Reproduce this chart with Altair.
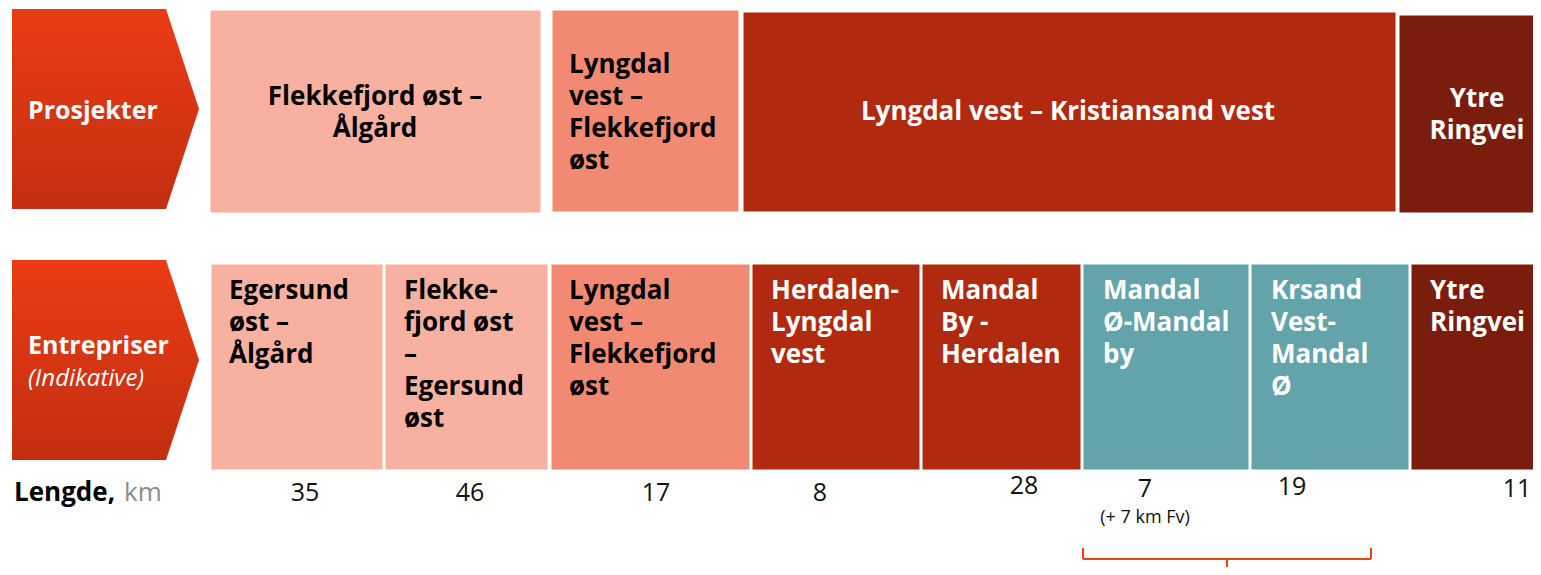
import altair as alt
import pandas as pd

# ---------------- data ----------------
row_labels = ["Prosjekter", "Entrepriser"]
row_sublabels = ["", "(Indikative)"]

project_names = [
    "Flekkefjord øst –\nÅlgård",
    "Lyngdal\nvest –\nFlekkefjord\nøst",
    "Lyngdal vest – Kristiansand vest",
    "Ytre\nRingvei",
]
project_group = ["light", "medium", "red", "dark"]

contract_names = [
    "Egersund\nøst –\nÅlgård",
    "Flekke-\nfjord øst\n–\nEgersund\nøst",
    "Lyngdal\nvest –\nFlekkefjord\nøst",
    "Herdalen-\nLyngdal\nvest",
    "Mandal\nBy -\nHerdalen",
    "Mandal\nØ-Mandal\nby",
    "Krsand\nVest-\nMandal\nØ",
    "Ytre\nRingvei",
]
contract_group = ["light", "light", "medium", "red", "red", "teal", "teal", "dark"]
lengths_km = [35, 46, 17, 8, 28, 7, 19, 11]
length_notes = ["", "", "", "", "", "(+ 7 km Fv)", "", ""]

# ---------------- layout & style ----------------
fill_colors = {"light": "#F8B1A1", "medium": "#F28A73", "red": "#B12A10", "dark": "#7A1D0C", "teal": "#63A4AB"}
text_colors = {"light": "#000000", "medium": "#000000", "red": "#FFFFFF", "dark": "#FFFFFF", "teal": "#FFFFFF"}

LINE_H = 32
proj_x0 = [210, 552, 743, 1399]
proj_x1 = [541, 739, 1396, 1545]
proj_y0 = [10, 10, 12, 15]
proj_y1 = [213, 212, 212, 213]
proj_tx = [375, 569, 1068, 1477]
proj_tcenter = [113, 113, 112, 115]
proj_align = ["center", "left", "center", "center"]

con_x0 = [211, 385, 551, 752, 922, 1083, 1251, 1411]
con_x1 = [383, 548, 750, 920, 1081, 1249, 1409, 1545]
con_tx = [229, 404, 569, 771, 941, 1103, 1271, 1430]
len_x = [305, 470, 656, 820, 1024, 1145, 1292, 1517]
len_y = [493, 493, 493, 493, 486, 489, 487, 489]

FONT = "Open Sans"
xs = alt.Scale(domain=[8, 1533], nice=False, zero=False)
ys = alt.Scale(domain=[8, 567], nice=False, zero=False, reverse=True)

# ---------------- tables ----------------
proj = pd.DataFrame({
    "name": project_names, "group": project_group,
    "x0": proj_x0, "x1": proj_x1, "y0": proj_y0, "y1": proj_y1,
    "tx": proj_tx, "align": proj_align, "tc_y": proj_tcenter,
})
proj["fill"] = proj["group"].map(fill_colors)
proj["tc"] = proj["group"].map(text_colors)
proj["nlines"] = proj["name"].str.count("\n") + 1
proj["ty"] = proj["tc_y"] - (proj["nlines"] - 1) * LINE_H / 2

con = pd.DataFrame({
    "name": contract_names, "group": contract_group,
    "x0": con_x0, "x1": con_x1, "tx": con_tx,
    "len": [str(v) for v in lengths_km], "note": length_notes,
    "lx": len_x, "ly": len_y,
})
con["y0"] = 264
con["y1"] = 470
con["ty"] = 290.5
con["fill"] = con["group"].map(fill_colors)
con["tc"] = con["group"].map(text_colors)

# arrow pentagons (x, top, bottom)
arrows = pd.DataFrame({
    "row": ["a", "a", "a", "b", "b", "b"],
    "x": [12, 166, 199, 12, 166, 199],
    "top": [9, 9, 109, 260, 260, 360],
    "bot": [209, 209, 109, 460, 460, 360],
})

grad = alt.Gradient(
    gradient="linear",
    stops=[alt.GradientStop(color="#EC3B15", offset=0), alt.GradientStop(color="#C22F10", offset=1)],
    x1=0, x2=0, y1=0, y2=1,
)

topstrip = alt.Chart(pd.DataFrame({"a": [0], "b": [1545], "c": [0], "d": [3]})).mark_rect(color="#F7F7F7").encode(
    x=alt.X("a:Q", scale=xs, axis=None), x2="b:Q",
    y=alt.Y("c:Q", scale=ys, axis=None), y2="d:Q",
)

arrow_layer = alt.Chart(arrows).mark_area(color=grad, interpolate="linear").encode(
    x=alt.X("x:Q", scale=xs, axis=None),
    y=alt.Y("top:Q", scale=ys, axis=None),
    y2="bot:Q",
    detail="row:N",
)

row_text = pd.DataFrame({
    "t": row_labels, "s": row_sublabels, "x": [28, 28], "y": [111, 346], "sy": [111, 379],
})
row_label_layer = alt.Chart(row_text).mark_text(
    font=FONT, fontSize=25, fontWeight="bold", color="white", align="left", baseline="middle"
).encode(x=alt.X("x:Q", scale=xs, axis=None), y=alt.Y("y:Q", scale=ys, axis=None), text="t:N")
row_sub_layer = alt.Chart(row_text).mark_text(
    font=FONT, fontSize=24, fontStyle="italic", color="white", align="left", baseline="middle"
).encode(x=alt.X("x:Q", scale=xs, axis=None), y=alt.Y("sy:Q", scale=ys, axis=None), text="s:N")

proj_rects = alt.Chart(proj).mark_rect(stroke="white", strokeWidth=1).encode(
    x=alt.X("x0:Q", scale=xs, axis=None), x2="x1:Q",
    y=alt.Y("y0:Q", scale=ys, axis=None), y2="y1:Q",
    color=alt.Color("fill:N", scale=None),
)

def proj_text(al):
    return alt.Chart(proj).transform_filter(alt.datum.align == al).mark_text(
        font=FONT, fontSize=26, fontWeight="bold", align=al, baseline="middle",
        lineBreak="\n", lineHeight=LINE_H,
    ).encode(
        x=alt.X("tx:Q", scale=xs, axis=None), y=alt.Y("ty:Q", scale=ys, axis=None),
        text="name:N", color=alt.Color("tc:N", scale=None),
    )

con_rects = alt.Chart(con).mark_rect(stroke="white", strokeWidth=1).encode(
    x=alt.X("x0:Q", scale=xs, axis=None), x2="x1:Q",
    y=alt.Y("y0:Q", scale=ys, axis=None), y2="y1:Q",
    color=alt.Color("fill:N", scale=None),
)
con_text = alt.Chart(con).mark_text(
    font=FONT, fontSize=26, fontWeight="bold", align="left", baseline="middle",
    lineBreak="\n", lineHeight=LINE_H,
).encode(
    x=alt.X("tx:Q", scale=xs, axis=None), y=alt.Y("ty:Q", scale=ys, axis=None),
    text="name:N", color=alt.Color("tc:N", scale=None),
)

len_text = alt.Chart(con).mark_text(
    font=FONT, fontSize=25, color="#111111", align="center", baseline="middle",
).encode(x=alt.X("lx:Q", scale=xs, axis=None), y=alt.Y("ly:Q", scale=ys, axis=None), text="len:N")

note_df = con[con["note"] != ""].copy()
note_df["ny"] = note_df["ly"] + 29
note_text = alt.Chart(note_df).mark_text(
    font=FONT, fontSize=18, color="#111111", align="center", baseline="middle",
).encode(x=alt.X("lx:Q", scale=xs, axis=None), y=alt.Y("ny:Q", scale=ys, axis=None), text="note:N")

lengde_df = pd.DataFrame({"t": ["Lengde,", "km"], "x": [14, 124], "y": [493, 493]})
lengde_bold = alt.Chart(lengde_df.iloc[[0]]).mark_text(
    font=FONT, fontSize=26, fontWeight="bold", color="#000000", align="left", baseline="middle",
).encode(x=alt.X("x:Q", scale=xs, axis=None), y=alt.Y("y:Q", scale=ys, axis=None), text="t:N")
lengde_km = alt.Chart(lengde_df.iloc[[1]]).mark_text(
    font=FONT, fontSize=26, color="#8C8C8C", align="left", baseline="middle",
).encode(x=alt.X("x:Q", scale=xs, axis=None), y=alt.Y("y:Q", scale=ys, axis=None), text="t:N")

# bracket under the teal contracts
bracket = pd.DataFrame({
    "x": [1083, 1083, 1371, 1227],
    "x2": [1083, 1371, 1371, 1227],
    "y": [548, 559, 548, 559],
    "y2": [559, 559, 559, 575],
})
bracket_layer = alt.Chart(bracket).mark_rule(color="#E8441C", strokeWidth=2).encode(
    x=alt.X("x:Q", scale=xs, axis=None), x2="x2:Q",
    y=alt.Y("y:Q", scale=ys, axis=None), y2="y2:Q",
)

chart = alt.layer(
    topstrip, arrow_layer, row_label_layer, row_sub_layer,
    proj_rects, proj_text("center"), proj_text("left"),
    con_rects, con_text,
    len_text, note_text, lengde_bold, lengde_km, bracket_layer,
).properties(
    width=1525, height=559, background="white",
    autosize=alt.AutoSizeParams(type="none"), padding=0,
).configure_view(strokeWidth=0)

chart.save("out.html", embed_options={"renderer": "svg", "actions": False})
